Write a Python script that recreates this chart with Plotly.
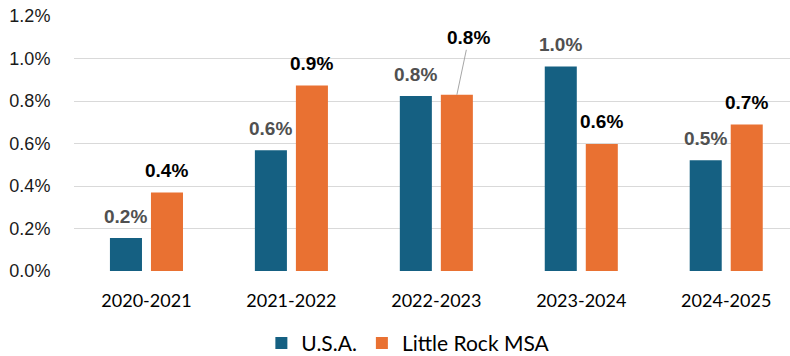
import plotly.graph_objects as go

# Year-over-year population growth, U.S.A. vs Little Rock MSA
periods = ["2020-2021", "2021-2022", "2022-2023", "2023-2024", "2024-2025"]
usa_growth = [0.155, 0.568, 0.823, 0.962, 0.521]
little_rock_growth = [0.370, 0.873, 0.829, 0.598, 0.690]
usa_labels = ["0.2%", "0.6%", "0.8%", "1.0%", "0.5%"]
little_rock_labels = ["0.4%", "0.9%", "0.8%", "0.6%", "0.7%"]
y_ticks = [0.0, 0.2, 0.4, 0.6, 0.8, 1.0, 1.2]
y_tick_labels = ["0.0%", "0.2%", "0.4%", "0.6%", "0.8%", "1.0%", "1.2%"]

USA_COLOR = "#156082"
LR_COLOR = "#E97132"
BAR_W = 0.221
USA_OFF = -0.252
LR_OFF = 0.031

x_idx = list(range(len(periods)))

fig = go.Figure()
fig.add_trace(go.Bar(
    name="U.S.A.", x=x_idx, y=usa_growth, marker_color=USA_COLOR,
    width=BAR_W, offset=USA_OFF, marker_line_width=0,
))
fig.add_trace(go.Bar(
    name="Little Rock MSA", x=x_idx, y=little_rock_growth, marker_color=LR_COLOR,
    width=BAR_W, offset=LR_OFF, marker_line_width=0,
))

label_font = dict(family="Liberation Sans, Arial, sans-serif", size=19)
for i, (v, t) in enumerate(zip(usa_growth, usa_labels)):
    fig.add_annotation(
        x=i + USA_OFF + BAR_W / 2, y=v, text="<b>%s</b>" % t, showarrow=False,
        yanchor="middle", yshift=22, font=dict(label_font, color="#505050"),
    )
for i, (v, t) in enumerate(zip(little_rock_growth, little_rock_labels)):
    xc = i + LR_OFF + BAR_W / 2
    if i == 2:
        # label lifted clear of the neighbouring bar, joined by a leader line
        fig.add_annotation(
            x=xc, y=v, text="<b>%s</b>" % t, showarrow=True, arrowhead=0,
            arrowwidth=1, arrowcolor="#A6A6A6", ax=12, ay=-57, standoff=0,
            font=dict(label_font, color="#000000"),
        )
    else:
        fig.add_annotation(
            x=xc, y=v, text="<b>%s</b>" % t, showarrow=False,
            yanchor="middle", yshift=22, font=dict(label_font, color="#000000"),
        )

fig.update_layout(
    width=790, height=356,
    margin=dict(l=73.5, r=0, t=16, b=85.3, pad=0, autoexpand=False),
    plot_bgcolor="white", paper_bgcolor="white",
    barmode="overlay",
    showlegend=True,
    legend=dict(
        orientation="h", x=0.467, xanchor="center", y=-0.284, yanchor="middle",
        font=dict(family="Lato, sans-serif", size=21, color="#000000"),
        itemwidth=30, traceorder="normal",
    ),
    xaxis=dict(
        range=[-0.5, 4.44], tickmode="array", tickvals=x_idx, ticktext=periods,
        showgrid=False, zeroline=False, showline=False,
        ticks="outside", ticklen=13, tickcolor="rgba(0,0,0,0)",
        tickfont=dict(family="Lato, sans-serif", size=18, color="#000000"),
    ),
    yaxis=dict(
        range=[0, 1.2], tickmode="array", tickvals=y_ticks, ticktext=y_tick_labels,
        showgrid=True, gridcolor="#D9D9D9", gridwidth=1, zeroline=False,
        showline=False, ticks="outside", ticklen=19, tickcolor="rgba(0,0,0,0)",
        tickfont=dict(family="Liberation Sans, Arial, sans-serif", size=18, color="#1a1a1a"),
    ),
)

fig.write_html("out.html")
